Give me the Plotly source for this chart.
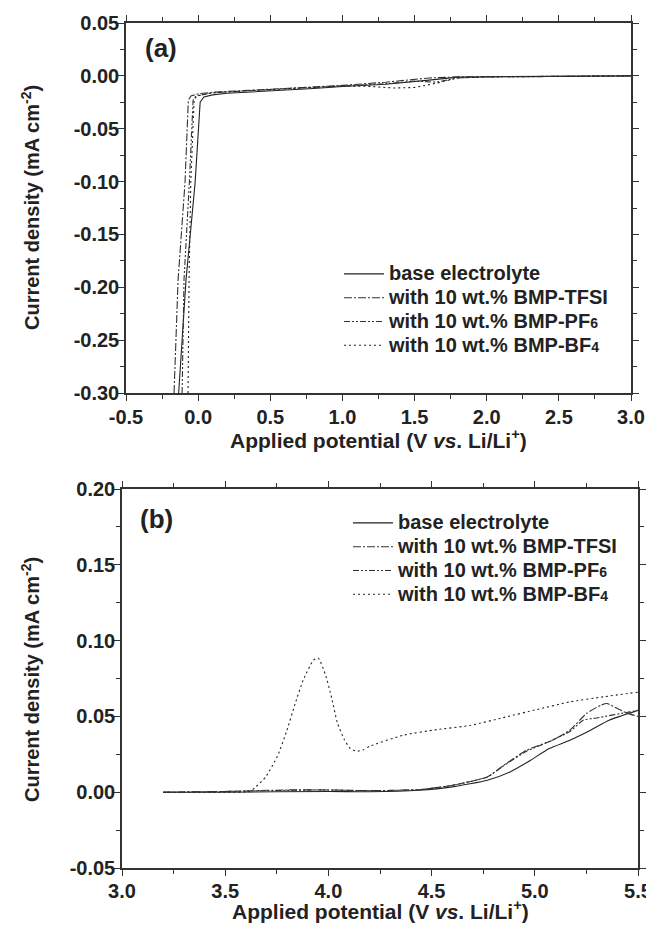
import plotly.graph_objects as go

# ---------------- data: panel (a) ----------------
a_base_x = [-0.135, -0.084, -0.021, 0.005, 0.014, 0.04, 0.1, 0.2, 0.5, 0.8, 1.0, 1.3, 1.6, 1.8, 2.0, 2.5, 3.0]
a_base_y = [-0.30, -0.193, -0.101, -0.040, -0.025, -0.020, -0.018, -0.0165, -0.0145, -0.012, -0.010, -0.008, -0.004, -0.0012, -0.0008, -0.0005, 0.0]

a_tfsi_x = [-0.167, -0.139, -0.091, -0.075, -0.068, -0.05, 0.0, 0.1, 0.5, 1.0, 1.3, 1.6, 1.8, 2.0, 2.5, 3.0]
a_tfsi_y = [-0.30, -0.193, -0.101, -0.040, -0.023, -0.019, -0.017, -0.0155, -0.0125, -0.009, -0.006, -0.002, -0.001, -0.0008, -0.0005, 0.0]

a_pf6_x = [-0.111, -0.098, -0.061, -0.042, -0.035, -0.015, 0.05, 0.1, 0.5, 1.0, 1.3, 1.5, 1.65, 1.8, 2.0, 2.5, 3.0]
a_pf6_y = [-0.30, -0.193, -0.101, -0.040, -0.023, -0.019, -0.017, -0.016, -0.013, -0.0095, -0.0075, -0.005, -0.006, -0.002, -0.001, -0.0006, 0.0]

a_bf4_x = [-0.070, -0.063, -0.051, -0.035, -0.028, -0.01, 0.05, 0.1, 0.5, 1.0, 1.2, 1.35, 1.5, 1.65, 1.8, 2.0, 2.5, 3.0]
a_bf4_y = [-0.30, -0.193, -0.101, -0.040, -0.023, -0.019, -0.017, -0.016, -0.013, -0.0095, -0.010, -0.0115, -0.011, -0.007, -0.002, -0.001, -0.0005, 0.0]

# ---------------- data: panel (b) ----------------
b_base_x = [3.2, 3.5, 4.0, 4.2, 4.44, 4.6, 4.77, 4.88, 4.98, 5.07, 5.17, 5.27, 5.36, 5.5]
b_base_y = [0.0, 0.0, 0.0005, 0.0003, 0.0013, 0.0035, 0.0079, 0.0134, 0.0211, 0.0288, 0.0343, 0.0409, 0.0475, 0.054]

b_tfsi_x = [3.2, 3.5, 3.8, 4.0, 4.2, 4.45, 4.6, 4.77, 4.85, 4.96, 5.08, 5.17, 5.25, 5.32, 5.35, 5.40, 5.45, 5.5]
b_tfsi_y = [0.0, 0.0005, 0.0015, 0.0015, 0.001, 0.0018, 0.0045, 0.0101, 0.0178, 0.0277, 0.034, 0.0409, 0.0519, 0.0574, 0.0585, 0.0552, 0.052, 0.050]

b_pf6_x = [3.2, 3.5, 3.8, 4.0, 4.2, 4.45, 4.6, 4.77, 4.85, 4.96, 5.08, 5.17, 5.235, 5.3, 5.46, 5.5]
b_pf6_y = [0.0, 0.0005, 0.0012, 0.0015, 0.001, 0.0018, 0.0045, 0.010, 0.0175, 0.027, 0.034, 0.040, 0.0475, 0.049, 0.053, 0.054]

b_bf4_x = [3.2, 3.5, 3.62, 3.644, 3.696, 3.754, 3.797, 3.838, 3.878, 3.927, 3.951, 3.987, 4.016, 4.043,
           4.076, 4.105, 4.137, 4.17, 4.20, 4.363, 4.525, 4.686, 4.847, 5.009, 5.17, 5.332, 5.5]
b_bf4_y = [0.0, 0.0, 0.0005, 0.003, 0.010, 0.024, 0.040, 0.058, 0.074, 0.087, 0.0885, 0.077, 0.062, 0.046,
           0.035, 0.029, 0.027, 0.028, 0.0303, 0.0376, 0.0413, 0.044, 0.0492, 0.0545, 0.0596, 0.0629, 0.066]

# ---------------- tick labels ----------------
a_xticks = [-0.5, 0.0, 0.5, 1.0, 1.5, 2.0, 2.5, 3.0]
a_xlabels = ["-0.5", "0.0", "0.5", "1.0", "1.5", "2.0", "2.5", "3.0"]
a_yticks = [0.05, 0.0, -0.05, -0.10, -0.15, -0.20, -0.25, -0.30]
a_ylabels = ["0.05", "0.00", "-0.05", "-0.10", "-0.15", "-0.20", "-0.25", "-0.30"]
b_xticks = [3.0, 3.5, 4.0, 4.5, 5.0, 5.5]
b_xlabels = ["3.0", "3.5", "4.0", "4.5", "5.0", "5.5"]
b_yticks = [0.20, 0.15, 0.10, 0.05, 0.0, -0.05]
b_ylabels = ["0.20", "0.15", "0.10", "0.05", "0.00", "-0.05"]

series_names = [
    "base electrolyte",
    "with 10 wt.% BMP-TFSI",
    "with 10 wt.% BMP-PF<span style='font-size:14px'>6</span>",
    "with 10 wt.% BMP-BF<span style='font-size:14px'>4</span>",
]
dashes = ["solid", "8px,2px,2px,2px", "6px,2px,2px,2px,2px,2px", "2px,3px"]
colors = ["#222222", "#333333", "#333333", "#222222"]

FONT = "Liberation Sans, Arial, sans-serif"

# page body has an 8px margin: figure is drawn 8px in from the top-left corner
OFF = 8
W, H = 654 - OFF, 926 - OFF


def px(x):
    return (x - OFF) / W


def py(y):
    return 1 - (y - OFF) / H


fig = go.Figure()

a_sets = [(a_base_x, a_base_y), (a_tfsi_x, a_tfsi_y), (a_pf6_x, a_pf6_y), (a_bf4_x, a_bf4_y)]
b_sets = [(b_base_x, b_base_y), (b_tfsi_x, b_tfsi_y), (b_pf6_x, b_pf6_y), (b_bf4_x, b_bf4_y)]

for i, (xs, ys) in enumerate(a_sets):
    fig.add_trace(go.Scatter(x=xs, y=ys, mode="lines",
                             name="<span style='font-size:20px'>" + series_names[i] + "</span>",
                             line=dict(color=colors[i], width=1.1, dash=dashes[i]),
                             xaxis="x", yaxis="y", legend="legend"))
for i, (xs, ys) in enumerate(b_sets):
    fig.add_trace(go.Scatter(x=xs, y=ys, mode="lines",
                             name="<span style='font-size:20px'>" + series_names[i] + "</span>",
                             line=dict(color=colors[i], width=1.1, dash=dashes[i], shape="spline", smoothing=0.5),
                             xaxis="x2", yaxis="y2", legend="legend2"))

tickfont = dict(family=FONT, size=20, color="#222222", weight="bold")
common = dict(showgrid=False, zeroline=False, showline=True, linecolor="#333333", linewidth=1.5,
              mirror="ticks", ticks="outside", ticklen=6, tickwidth=1.3, tickcolor="#333333",
              tickfont=tickfont, automargin=False, tickmode="array")
minor = dict(ticks="outside", ticklen=4, tickwidth=1.1, tickcolor="#333333", showgrid=False)

legfont = dict(family=FONT, size=16, color="#222222", weight="bold")
fig.update_layout(
    width=W, height=H, autosize=False,
    margin=dict(l=0, r=0, t=0, b=0),
    paper_bgcolor="white", plot_bgcolor="white",
    xaxis=dict(domain=[px(126), px(631)], range=[-0.5, 3.0], tickvals=a_xticks, ticktext=a_xlabels,
               anchor="y", ticklabelstandoff=-1, minor=dict(dtick=0.25, tick0=0, **minor), **common),
    yaxis=dict(domain=[py(393), py(23)], range=[-0.30, 0.05], tickvals=a_yticks, ticktext=a_ylabels,
               anchor="x", ticklabelstandoff=-5, minor=dict(dtick=0.025, tick0=0, **minor), **common),
    xaxis2=dict(domain=[px(122), px(638)], range=[3.0, 5.5], tickvals=b_xticks, ticktext=b_xlabels,
                anchor="y2", ticklabelstandoff=-2, ticklabeloverflow="allow",
                minor=dict(dtick=0.25, tick0=0, **minor), **common),
    yaxis2=dict(domain=[py(868), py(489)], range=[-0.05, 0.20], tickvals=b_yticks, ticktext=b_ylabels,
                anchor="x2", ticklabelstandoff=-5, minor=dict(dtick=0.025, tick0=0, **minor), **common),
    legend=dict(x=px(339), y=py(257), xanchor="left", yanchor="top", bgcolor="rgba(0,0,0,0)",
                font=legfont, tracegroupgap=0, itemwidth=40),
    legend2=dict(x=px(348), y=py(506), xanchor="left", yanchor="top", bgcolor="rgba(0,0,0,0)",
                 font=legfont, tracegroupgap=0, itemwidth=40),
)

xtitle_font = dict(family=FONT, size=21, color="#222222", weight="bold")
ytitle_font = dict(family=FONT, size=20, color="#222222", weight="bold")
xtitle = "Applied potential (V <i>vs</i>. Li/Li<sup>+</sup>)"
ytitle = "Current density (mA cm<sup>-2</sup>)"
annos = [
    dict(text=xtitle, x=px((126+631)/2), y=py(439), xref="paper", yref="paper", showarrow=False,
         font=xtitle_font, xanchor="center", yanchor="middle"),
    dict(text=xtitle, x=px((122+638)/2), y=py(910), xref="paper", yref="paper", showarrow=False,
         font=xtitle_font, xanchor="center", yanchor="middle"),
    dict(text=ytitle, x=px(30), y=py(208), xref="paper", yref="paper", showarrow=False, textangle=-90,
         font=ytitle_font, xanchor="center", yanchor="middle"),
    dict(text=ytitle, x=px(30), y=py(680), xref="paper", yref="paper", showarrow=False, textangle=-90,
         font=ytitle_font, xanchor="center", yanchor="middle"),
    dict(text="(a)", x=px(143), y=py(48), xref="paper", yref="paper", showarrow=False,
         font=dict(family=FONT, size=26, color="#222222", weight="bold"), xanchor="left", yanchor="middle"),
    dict(text="(b)", x=px(138), y=py(519), xref="paper", yref="paper", showarrow=False,
         font=dict(family=FONT, size=26, color="#222222", weight="bold"), xanchor="left", yanchor="middle"),
]
fig.update_layout(annotations=annos)

fig.write_html("out.html")
